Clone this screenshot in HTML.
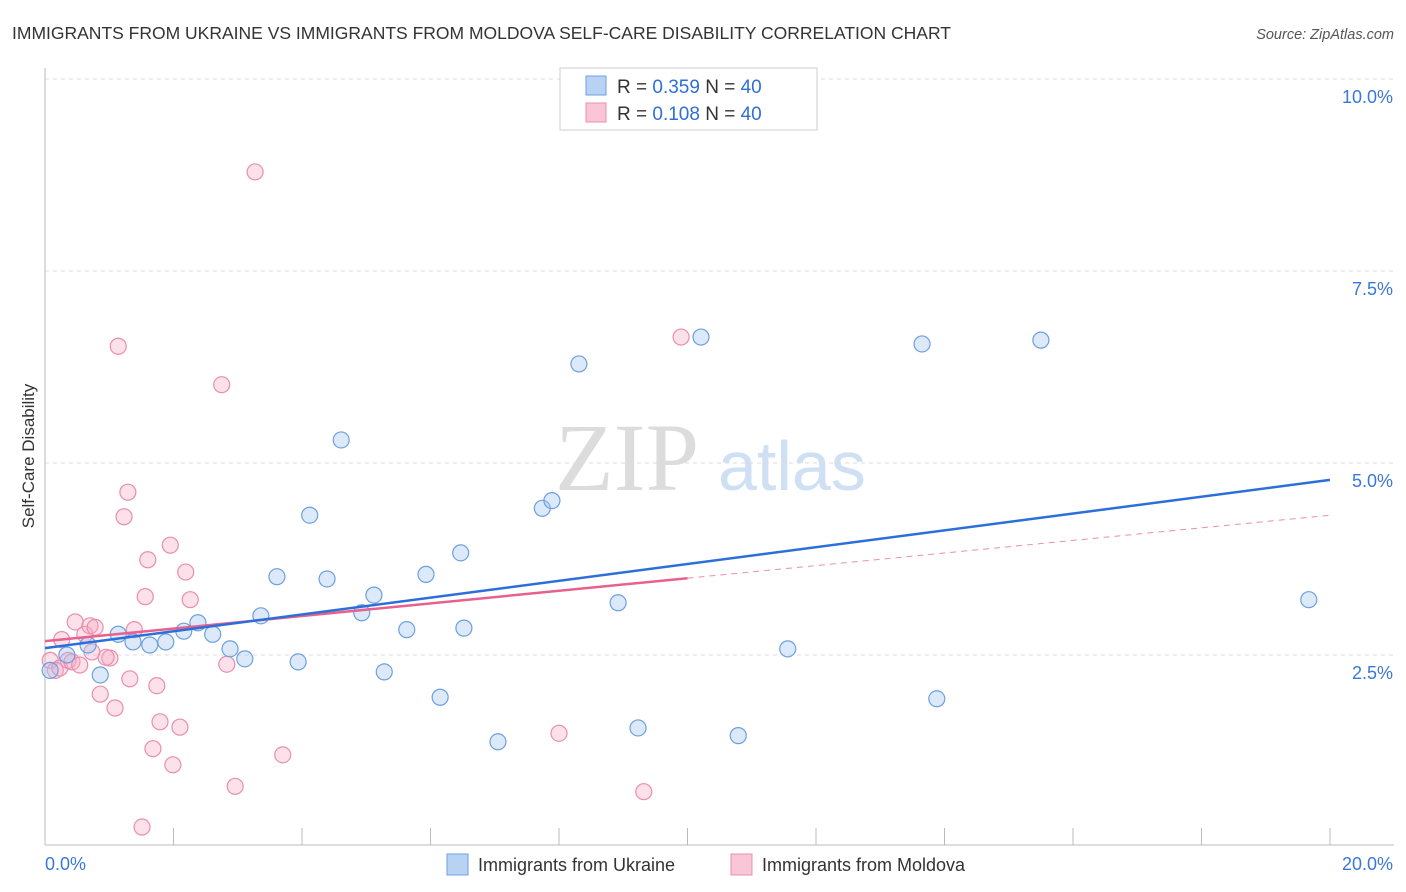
<!DOCTYPE html>
<html><head><meta charset="utf-8"><style>
body{margin:0;background:#fff;font-family:"Liberation Sans",sans-serif;}
#wrap{position:relative;width:1406px;height:892px;overflow:hidden;}
</style></head><body>
<div id="wrap">
<svg id="svg" width="1406" height="892" xmlns="http://www.w3.org/2000/svg">
<text x="12" y="39" font-size="17.5" fill="#333">IMMIGRANTS FROM UKRAINE VS IMMIGRANTS FROM MOLDOVA SELF-CARE DISABILITY CORRELATION CHART</text>
<text x="1394" y="39" font-size="14.5" fill="#555" font-style="italic" text-anchor="end">Source: ZipAtlas.com</text>
<text x="34" y="456" font-size="17" fill="#333" text-anchor="middle" transform="rotate(-90 34 456)">Self-Care Disability</text>
<text x="555" y="490" font-size="96" fill="#dcdcdc" font-family="Liberation Serif,serif">ZIP</text>
<text x="718" y="490" font-size="70" fill="#cfe0f4">atlas</text>
<g id="grid"></g><g id="axes"></g><g id="pts"></g><g id="lines"></g>
<rect x="560" y="68" width="257" height="62" fill="#fff" stroke="#ccc"/>
<rect x="586" y="76" width="20" height="19" fill="#b8d2f4" stroke="#6fa0e0"/>
<rect x="586" y="103" width="20" height="19" fill="#f8c6d6" stroke="#e890ab"/>
<text x="617" y="93" font-size="19" fill="#333">R = <tspan fill="#2f6fd6">0.359</tspan>   N = <tspan fill="#2f6fd6">40</tspan></text>
<text x="617" y="120" font-size="19" fill="#333">R = <tspan fill="#2f6fd6">0.108</tspan>   N = <tspan fill="#2f6fd6">40</tspan></text>
<rect x="447" y="854" width="21" height="21" fill="#b8d2f4" stroke="#6fa0e0"/>
<text x="478" y="871" font-size="18" fill="#333">Immigrants from Ukraine</text>
<rect x="731" y="854" width="21" height="21" fill="#f8c6d6" stroke="#e890ab"/>
<text x="762" y="871" font-size="18" fill="#333">Immigrants from Moldova</text>
</svg>
</div>
<script>
const yTicks=[2.5,5,7.5,10];
const yTickLabels=["2.5%","5.0%","7.5%","10.0%"];
const xTicks=[0,2,4,6,8,10,12,14,16,18,20];
const xTickLabels=["0.0%","20.0%"];
const ukraineX=[0.08,0.34,0.67,0.86,1.14,1.37,1.63,1.88,2.16,2.38,2.61,2.88,3.11,3.36,3.61,3.94,4.12,4.39,4.61,4.93,5.12,5.28,5.63,5.93,6.15,6.47,6.52,7.05,7.74,7.89,8.31,8.92,9.23,10.21,10.79,11.56,13.65,13.88,15.50,19.67];
const ukraineY=[2.30,2.50,2.63,2.24,2.77,2.67,2.63,2.67,2.81,2.92,2.77,2.58,2.45,3.01,3.52,2.41,4.32,3.49,5.30,3.05,3.28,2.28,2.83,3.55,1.95,3.83,2.85,1.37,4.41,4.51,6.29,3.18,1.55,6.64,1.45,2.58,6.55,1.93,6.60,3.22];
const moldovaX=[0.08,0.16,0.23,0.36,0.47,0.62,0.70,0.78,0.86,1.01,1.09,1.14,1.23,1.29,1.32,1.39,1.51,1.56,1.60,1.68,1.74,1.79,1.95,1.99,2.10,2.19,2.26,2.75,2.83,2.96,3.27,3.70,8.00,9.32,9.90,0.26,0.42,0.54,0.95,0.73];
const moldovaY=[2.43,2.30,2.33,2.43,2.93,2.77,2.88,2.86,1.99,2.46,1.81,6.52,4.30,4.62,2.19,2.83,0.26,3.26,3.74,1.28,2.10,1.63,3.93,1.07,1.56,3.58,3.22,6.02,2.38,0.79,8.79,1.20,1.48,0.72,6.64,2.70,2.41,2.37,2.47,2.54];
const ukraineTrend=[2.59,4.78];
const moldovaTrend=[2.68,4.32];
const moldovaSolidEnd=10;

const NS="http://www.w3.org/2000/svg";
const X=v=>45+v/20*1285;
const Y=v=>847-v*76.8;
function mk(tag,attrs,parent){const e=document.createElementNS(NS,tag);for(const k in attrs)e.setAttribute(k,attrs[k]);document.getElementById(parent).appendChild(e);return e;}
yTicks.forEach((t,i)=>{
 const l=mk('line',{x1:45,x2:1394,y1:Y(t),y2:Y(t),stroke:'#ddd','stroke-dasharray':'4,4'},'grid');
 
 
 const tx=mk('text',{x:1393,y:Y(t)+24,'font-size':18,fill:'#3a78d8','text-anchor':'end'},'grid');
 tx.textContent=yTickLabels[i];
 
 
});
const ya=mk('line',{x1:45,x2:45,y1:68,y2:845,stroke:'#bbb'},'axes');


const xa=mk('line',{x1:45,x2:1394,y1:845,y2:845,stroke:'#bbb'},'axes');


xTicks.forEach(t=>{
 const l=mk('line',{x1:X(t),x2:X(t),y1:828,y2:845,stroke:'#bbb'},'axes');
 
 
});
const xl0=mk('text',{x:45,y:870,'font-size':18,fill:'#3a78d8'},'axes');
xl0.textContent=xTickLabels[0];


const xl1=mk('text',{x:1393,y:870,'font-size':18,fill:'#3a78d8','text-anchor':'end'},'axes');
xl1.textContent=xTickLabels[1];


moldovaX.forEach((x,i)=>{
 const c=mk('circle',{cx:X(x),cy:Y(moldovaY[i]),r:8,fill:'rgba(245,170,195,0.35)',stroke:'#e98fab','stroke-width':1.2},'pts');
 
 
});
ukraineX.forEach((x,i)=>{
 const c=mk('circle',{cx:X(x),cy:Y(ukraineY[i]),r:8,fill:'rgba(160,196,240,0.38)',stroke:'#6d9fe0','stroke-width':1.2},'pts');
 
 
});
const my=x=>moldovaTrend[0]+(moldovaTrend[1]-moldovaTrend[0])*x/20;
const md=mk('line',{x1:X(moldovaSolidEnd),y1:Y(my(moldovaSolidEnd)),x2:X(20),y2:Y(moldovaTrend[1]),stroke:'#e98fab','stroke-width':1,'stroke-dasharray':'6,5'},'lines');


const ml=mk('line',{x1:X(0),y1:Y(moldovaTrend[0]),x2:X(moldovaSolidEnd),y2:Y(my(moldovaSolidEnd)),stroke:'#e8608e','stroke-width':2.5},'lines');


const ul=mk('line',{x1:X(0),y1:Y(ukraineTrend[0]),x2:X(20),y2:Y(ukraineTrend[1]),stroke:'#2d6fd8','stroke-width':2.5},'lines');


</script>
</body></html>
